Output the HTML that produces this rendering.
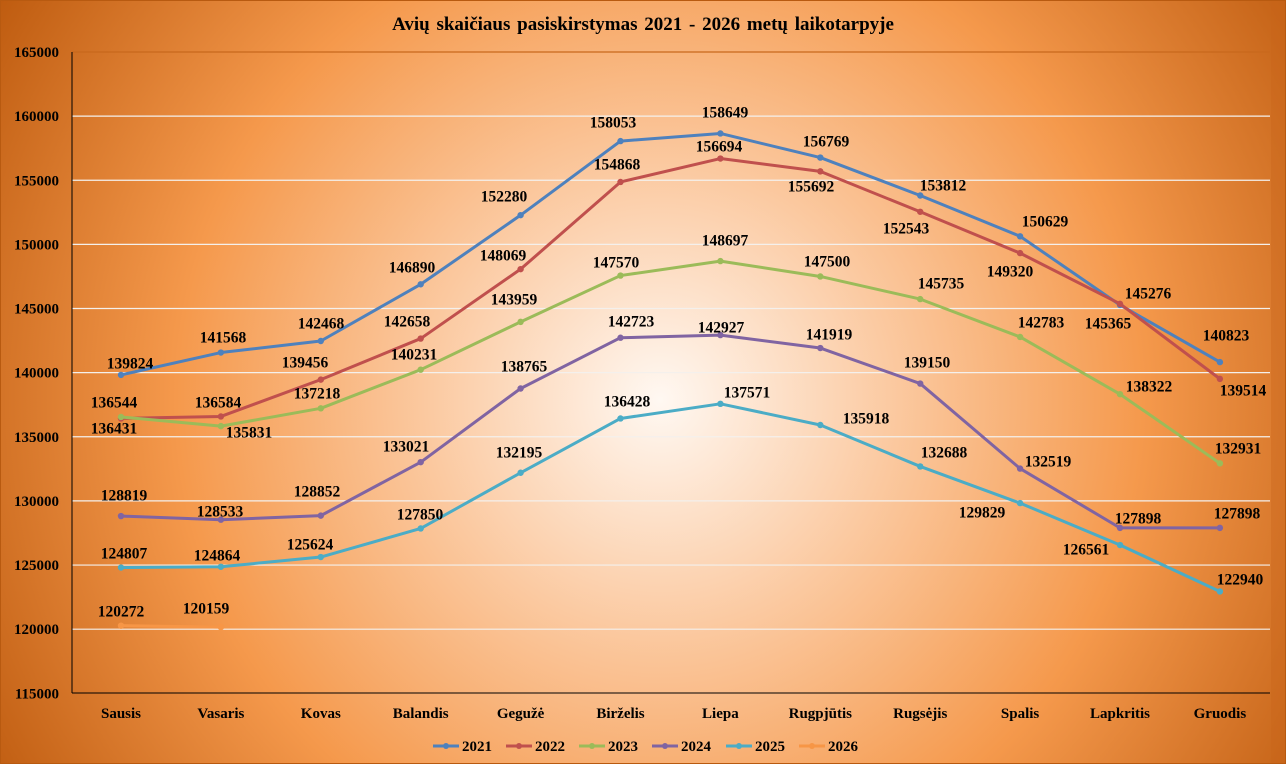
<!DOCTYPE html>
<html><head><meta charset="utf-8"><style>
html,body{margin:0;padding:0;width:1286px;height:764px;overflow:hidden}
svg{display:block}
text{font-family:"Liberation Serif",serif;font-weight:bold;fill:#000}
</style></head><body>
<svg id="s" width="1286" height="764" xmlns="http://www.w3.org/2000/svg">
<defs>
<radialGradient id="bg" cx="660" cy="400" r="780" gradientUnits="userSpaceOnUse">
<stop offset="0" stop-color="#fff8f2"/>
<stop offset="0.3" stop-color="#fbc9a0"/>
<stop offset="0.62" stop-color="#f5994c"/>
<stop offset="1" stop-color="#bd5a0e"/>
</radialGradient>
</defs>
<rect width="1286" height="764" fill="url(#bg)"/>
<rect x="1271" y="0" width="15" height="764" fill="#c8641a" opacity="0.35"/>
<rect x="0.5" y="0.5" width="1285" height="763" fill="none" stroke="#b85a10"/>
<text x="643" y="30" font-size="19" text-anchor="middle" word-spacing="2">Avių  skaičiaus  pasiskirstymas  2021 - 2026 metų  laikotarpyje</text>
<g id="g"></g>
</svg>
<script>
var g=document.getElementById('g'),NS='http://www.w3.org/2000/svg';
function el(t,a,txt){var e=document.createElementNS(NS,t);for(var k in a)e.setAttribute(k,a[k]);if(txt!=null)e.textContent=txt;g.appendChild(e);return e;}
function Y(v){return 52+(165000-v)*0.012826;}
function X(i){return 121+i*99.9;}
for(var v=115000;v<=165000;v+=5000){var y=Y(v);
 if(v>115000)el('line',{x1:72,x2:1270,y1:y,y2:y,stroke:v==165000?'#c8681c':'#f4f0ec','stroke-width':1.2});
 el('text',{x:59,y:y+5,'font-size':15,'text-anchor':'end'},v);}
el('line',{x1:72,x2:72,y1:52,y2:693,stroke:'#000'});
el('line',{x1:72,x2:1270,y1:693,y2:693,stroke:'#000'});
var m=['Sausis','Vasaris','Kovas','Balandis','Gegužė','Birželis','Liepa','Rugpjūtis','Rugsėjis','Spalis','Lapkritis','Gruodis'];
m.forEach(function(n,i){el('text',{x:X(i),y:718,'font-size':15,'text-anchor':'middle'},n);});
var S=[
['#4e81bd',[139824,141568,142468,146890,152280,158053,158649,156769,153812,150629,145276,140823],
[[130,363],[223,337],[321,323],[412,267],[504,196],[613,122],[725,112],[826,141],[943,185],[1045,221],[1148,293],[1226,335]]],
['#c0504d',[136431,136584,139456,142658,148069,154868,156694,155692,152543,149320,145365,139514],
[[114,428],[218,402],[305,362],[407,321],[503,255],[617,164],[719,146],[811,186],[906,228],[1010,271],[1108,323],[1243,390]]],
['#9bbb59',[136544,135831,137218,140231,143959,147570,148697,147500,145735,142783,138322,132931],
[[114,402],[249,432],[317,393],[414,354],[514,299],[616,262],[725,240],[827,261],[941,283],[1041,322],[1149,386],[1238,448]]],
['#8064a2',[128819,128533,128852,133021,138765,142723,142927,141919,139150,132519,127898,127898],
[[124,495],[220,511],[317,491],[406,446],[524,366],[631,321],[721,327],[829,334],[927,362],[1048,461],[1138,518],[1237,513]]],
['#4bacc6',[124807,124864,125624,127850,132195,136428,137571,135918,132688,129829,126561,122940],
[[124,553],[217,555],[310,544],[420,514],[519,452],[627,401],[747,392],[866,418],[944,452],[982,512],[1086,549],[1240,579]]],
['#f79646',[120272,120159],[[121,611],[206,608]]]];
S.forEach(function(s){var p=s[1].map(function(v,i){return X(i)+','+Y(v)}).join(' ');
 el('polyline',{points:p,fill:'none',stroke:s[0],'stroke-width':3,'stroke-linejoin':'round'});
 s[1].forEach(function(v,i){el('circle',{cx:X(i),cy:Y(v),r:3.2,fill:s[0]});});});
S.forEach(function(s){s[2].forEach(function(c,i){el('text',{x:c[0],y:c[1]+5.5,'font-size':15.5,'text-anchor':'middle'},s[1][i]);});});
var yrs=['2021','2022','2023','2024','2025','2026'],lx=[433,506,579,652,726,799];
S.forEach(function(s,i){var x=lx[i];el('line',{x1:x,x2:x+26,y1:746,y2:746,stroke:s[0],'stroke-width':3});
 el('circle',{cx:x+13,cy:746,r:3,fill:s[0]});el('text',{x:x+29,y:751,'font-size':15},yrs[i]);});
</script>
</body></html>
